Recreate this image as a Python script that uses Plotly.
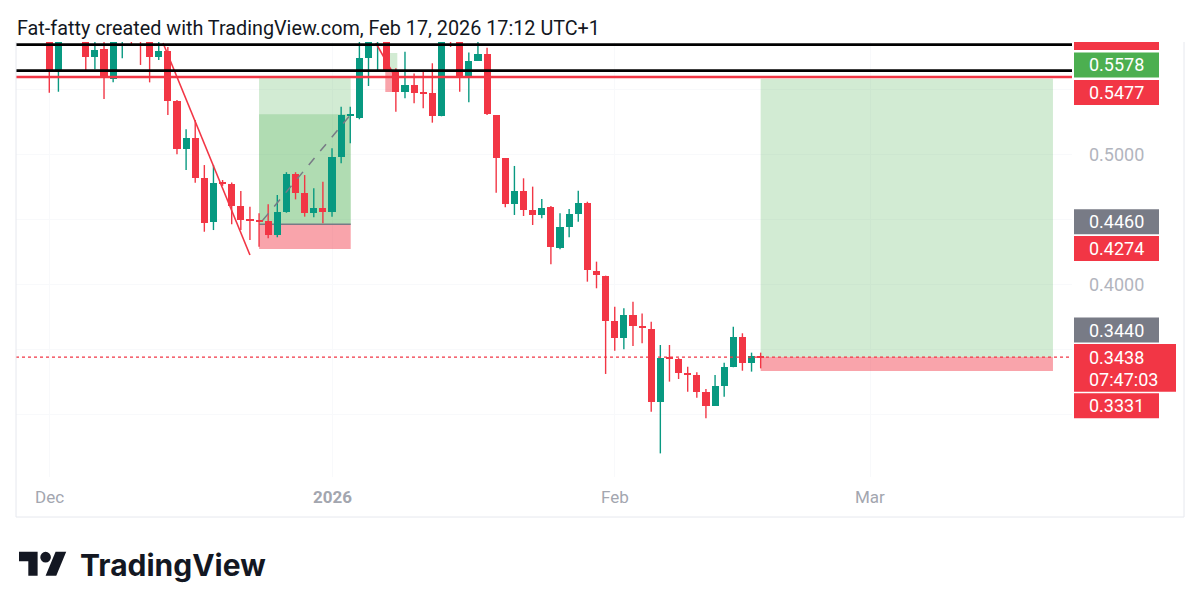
import plotly.graph_objects as go
import pandas as pd

# ---------------- data ----------------
dates = ["2025-12-01", "2025-12-02", "2025-12-05", "2025-12-06", "2025-12-07", "2025-12-08",
         "2025-12-09", "2025-12-10", "2025-12-11", "2025-12-12", "2025-12-13", "2025-12-14",
         "2025-12-15", "2025-12-16", "2025-12-17", "2025-12-18", "2025-12-19", "2025-12-20",
         "2025-12-21", "2025-12-22", "2025-12-23", "2025-12-24", "2025-12-25", "2025-12-26",
         "2025-12-27", "2025-12-28", "2025-12-29", "2025-12-30", "2025-12-31", "2026-01-01",
         "2026-01-02", "2026-01-03", "2026-01-04", "2026-01-05", "2026-01-06", "2026-01-07",
         "2026-01-08", "2026-01-09", "2026-01-10", "2026-01-11", "2026-01-12", "2026-01-13",
         "2026-01-14", "2026-01-15", "2026-01-16", "2026-01-17", "2026-01-18", "2026-01-19",
         "2026-01-20", "2026-01-21", "2026-01-22", "2026-01-23", "2026-01-24", "2026-01-25",
         "2026-01-26", "2026-01-27", "2026-01-28", "2026-01-29", "2026-01-30", "2026-01-31",
         "2026-02-01", "2026-02-02", "2026-02-03", "2026-02-04", "2026-02-05", "2026-02-06",
         "2026-02-07", "2026-02-08", "2026-02-09", "2026-02-10", "2026-02-11", "2026-02-12",
         "2026-02-13", "2026-02-14", "2026-02-15", "2026-02-16", "2026-02-17"]

open_ = [0.592, 0.5641, 0.590, 0.5744, 0.5805, 0.5577, 0.588, 0.596, 0.594, 0.590, 0.5744, 0.5792,
         0.5408, 0.5036, 0.5125, 0.4818, 0.4477, 0.4782, 0.4767, 0.4602, 0.4496, 0.4492, 0.4485, 0.4377,
         0.4552, 0.4846, 0.4702, 0.4544, 0.4582, 0.4551, 0.4979, 0.5298, 0.5275, 0.5736, 0.588, 0.590,
         0.5641, 0.5475, 0.5531, 0.5471, 0.5467, 0.5292, 0.600, 0.594, 0.5602, 0.5718, 0.5769, 0.5300,
         0.4967, 0.4613, 0.4718, 0.4569, 0.4531, 0.4590, 0.4274, 0.4441, 0.4538, 0.4621, 0.4102, 0.4064,
         0.3718, 0.3587, 0.3762, 0.3678, 0.3654, 0.3090, 0.3436, 0.3423, 0.3313, 0.3300, 0.3167, 0.3064,
         0.3218, 0.3359, 0.3595, 0.3395, 0.3449]
high = [0.600, 0.602, 0.596, 0.590, 0.590, 0.596, 0.600, 0.600, 0.600, 0.597, 0.587, 0.5823,
        0.5415, 0.519, 0.5262, 0.4915, 0.4915, 0.4800, 0.4780, 0.4715, 0.4595, 0.4544, 0.4613, 0.4685,
        0.4860, 0.4860, 0.4838, 0.4736, 0.4787, 0.5044, 0.5364, 0.5364, 0.595, 0.598, 0.600, 0.598,
        0.5660, 0.5787, 0.5620, 0.5633, 0.5698, 0.600, 0.606, 0.598, 0.578, 0.587, 0.5818, 0.5300,
        0.4967, 0.4908, 0.4813, 0.4749, 0.4654, 0.4600, 0.4544, 0.4577, 0.4718, 0.4633, 0.4172, 0.4064,
        0.3825, 0.3813, 0.3864, 0.3774, 0.3710, 0.3531, 0.3531, 0.3430, 0.3364, 0.3321, 0.3192, 0.3300,
        0.3395, 0.3672, 0.3621, 0.3472, 0.3472]
low = [0.5472, 0.5479, 0.5646, 0.5651, 0.5423, 0.5551, 0.5736, 0.5838, 0.5685, 0.5551, 0.5723, 0.530,
       0.4998, 0.4877, 0.4779, 0.4402, 0.4415, 0.4755, 0.4459, 0.4415, 0.4338, 0.4287, 0.4352, 0.4360,
       0.4548, 0.4651, 0.4518, 0.4513, 0.4467, 0.4518, 0.4928, 0.5082, 0.5267, 0.5523, 0.5646, 0.5630,
       0.5325, 0.5428, 0.5390, 0.5351, 0.5241, 0.5290, 0.5823, 0.5479, 0.5398, 0.5715, 0.5300, 0.4702,
       0.4590, 0.4531, 0.4523, 0.4454, 0.4505, 0.4152, 0.4268, 0.4359, 0.4479, 0.4018, 0.3967, 0.3308,
       0.3487, 0.3498, 0.3523, 0.3544, 0.3018, 0.2697, 0.3249, 0.3269, 0.3171, 0.3125, 0.2967, 0.3064,
       0.3133, 0.3359, 0.3333, 0.3326, 0.3351]
close = [0.5633, 0.595, 0.5749, 0.5800, 0.5587, 0.590, 0.594, 0.592, 0.590, 0.5744, 0.5795, 0.5408,
         0.5036, 0.512, 0.4818, 0.4472, 0.4775, 0.4770, 0.4602, 0.4492, 0.4486, 0.4482, 0.4377, 0.4552,
         0.4846, 0.4702, 0.4544, 0.4582, 0.4551, 0.4979, 0.5298, 0.5310, 0.5736, 0.588, 0.594, 0.5641,
         0.5475, 0.5531, 0.5467, 0.5462, 0.5292, 0.592, 0.594, 0.5592, 0.5718, 0.5769, 0.5308, 0.4967,
         0.4613, 0.4715, 0.4569, 0.4531, 0.4587, 0.4282, 0.4441, 0.4536, 0.4621, 0.4108, 0.4069, 0.3718,
         0.3587, 0.3762, 0.3677, 0.3667, 0.3090, 0.3428, 0.3426, 0.3313, 0.3303, 0.3172, 0.3064, 0.3215,
         0.3359, 0.3595, 0.3395, 0.3449, 0.3438]

# horizontal levels (drawings)
black_levels = [0.5841, 0.5641]
red_level = 0.5592
last_price = 0.3438

# trendline (day offset from 2025-12-01, price)
trend_pts = [(12.47, 0.5854), (22.0, 0.4223)]
small_red_pts = [(35.8, 0.5854), (37.7, 0.5620)]

# long position tools: start day, end day, target, entry, stop
pos1 = dict(start=23.0, end=33.05, target=0.5592, entry=0.4459, stop=0.4269, reached=0.5305)
pos1_path = [(23.4, 0.4490), (33.0, 0.5300)]
pos2 = dict(start=78.0, end=110.05, target=0.5578, entry=0.3438, stop=0.3331)
pos3 = dict(start=36.84, end=38.16, target=0.5777, entry=0.5631, stop=0.5477)

# price-scale labels
axis_prices = [0.5000, 0.4000]
label_texts = ["0.5578", "0.5477", "0.4460", "0.4274", "0.3440", "0.3438", "0.3331"]
label_colors = ["#4caf50", "#f23645", "#787b86", "#f23645", "#787b86", "#f23645", "#f23645"]
countdown = "07:47:03"

month_ticks = ["2025-12-01", "2026-01-01", "2026-02-01", "2026-03-01"]
month_text = ["Dec", "<b>2026</b>", "Feb", "Mar"]

title_text = "Fat-fatty created with TradingView.com, Feb 17, 2026 17:12 UTC+1"

# ---------------- layout geometry (pixels) ----------------
W, H = 1200, 611
L, R, T, B = 16, 1072, 42, 477
PW, PH = R - L, B - T
PX_PER_DAY = 9.12
X_DEC1 = 49.3
Y_050, PX_PER_UNIT = 154.0, 1300.0

base = pd.Timestamp("2025-12-01")


def day(d):
    return base + pd.Timedelta(days=d)


def px_to_price(y):
    return 0.5 + (Y_050 - y) / PX_PER_UNIT


def fx(x):  # pixel -> paper x
    return (x - L) / PW


def fy(y):  # pixel -> paper y
    return (B - y) / PH


x_range = [day((L - X_DEC1) / PX_PER_DAY), day((R - X_DEC1) / PX_PER_DAY)]
y_range = [px_to_price(B), px_to_price(T)]

GREEN, RED = "#089981", "#f23645"
colors = [GREEN if c >= o else RED for o, c in zip(open_, close)]

fig = go.Figure()

# wicks
for col in (GREEN, RED):
    xs, ys = [], []
    for d, h, lo, c in zip(dates, high, low, colors):
        if c == col:
            xs += [d, d, None]
            ys += [lo, h, None]
    fig.add_trace(go.Scatter(x=xs, y=ys, mode="lines", line=dict(color=col, width=1.4),
                             hoverinfo="skip", showlegend=False))

# bodies
body_base = [min(o, c) for o, c in zip(open_, close)]
body_h = [max(abs(c - o), 0.0011) for o, c in zip(open_, close)]
fig.add_trace(go.Bar(x=dates, y=body_h, base=body_base, width=0.78 * 86400000,
                     marker=dict(color=colors, line=dict(width=0)), showlegend=False,
                     hoverinfo="skip"))

shapes = []
G_FILL = "rgba(76,175,80,0.25)"
R_FILL = "rgba(242,54,69,0.45)"
ZL = "between"

# position tools (below candles, above grid)
for p in (pos1, pos2, pos3):
    shapes.append(dict(type="rect", xref="x", yref="y", x0=day(p["start"]), x1=day(p["end"]),
                       y0=p["entry"], y1=p["target"], fillcolor=G_FILL, line=dict(width=0),
                       layer=ZL))
    shapes.append(dict(type="rect", xref="x", yref="y", x0=day(p["start"]), x1=day(p["end"]),
                       y0=p["stop"], y1=p["entry"], fillcolor=R_FILL, line=dict(width=0),
                       layer=ZL))
shapes.append(dict(type="rect", xref="x", yref="y", x0=day(pos1["start"]), x1=day(pos1["end"]),
                   y0=pos1["entry"], y1=pos1["reached"], fillcolor=G_FILL, line=dict(width=0),
                   layer=ZL))
shapes.append(dict(type="line", xref="x", yref="y", x0=day(pos1["start"]), x1=day(pos1["end"]),
                   y0=pos1["entry"], y1=pos1["entry"], line=dict(color="#787b86", width=1.5),
                   layer=ZL))
shapes.append(dict(type="line", xref="x", yref="y", x0=day(pos1_path[0][0]), x1=day(pos1_path[1][0]),
                   y0=pos1_path[0][1], y1=pos1_path[1][1],
                   line=dict(color="#787b86", width=1.5, dash="dash"), layer="above"))

# trend lines
for pts in (trend_pts, small_red_pts):
    shapes.append(dict(type="line", xref="x", yref="y", x0=day(pts[0][0]), x1=day(pts[1][0]),
                       y0=pts[0][1], y1=pts[1][1], line=dict(color=RED, width=1.6), layer="above"))

# horizontal lines
for lv in black_levels:
    shapes.append(dict(type="line", xref="paper", yref="y", x0=0, x1=1, y0=lv, y1=lv,
                       line=dict(color="#000000", width=2.6), layer="above"))
shapes.append(dict(type="line", xref="paper", yref="y", x0=0, x1=1, y0=red_level, y1=red_level,
                   line=dict(color=RED, width=2.6), layer="above"))
shapes.append(dict(type="line", xref="paper", yref="y", x0=0, x1=1, y0=last_price, y1=last_price,
                   line=dict(color=RED, width=1.3, dash="dot"), layer="above"))

# frame
FRAME = "#e6e8ee"
shapes.append(dict(type="line", xref="paper", yref="paper", x0=fx(L), x1=fx(L), y0=fy(T), y1=fy(517),
                   line=dict(color=FRAME, width=1)))
shapes.append(dict(type="line", xref="paper", yref="paper", x0=fx(1184), x1=fx(1184), y0=fy(T), y1=fy(517),
                   line=dict(color=FRAME, width=1)))
shapes.append(dict(type="line", xref="paper", yref="paper", x0=fx(L), x1=fx(1184), y0=fy(517), y1=fy(517),
                   line=dict(color=FRAME, width=1)))

annotations = []

# price-scale labels (boxes)
label_centers = [65.0, 92.5, 221.7, 248.5, 330.0, 357.0, 405.8]   # pixel centres after collision offset
BOX_L, BOX_R, BOX_H = 1074, 1159, 25
for txt, col, cy in zip(label_texts, label_colors, label_centers):
    if txt == f"{last_price:.4f}":
        shapes.append(dict(type="rect", xref="paper", yref="paper", x0=fx(BOX_L), x1=fx(1176),
                           y0=fy(cy - 13), y1=fy(cy + 34.7), fillcolor=col, line=dict(width=0)))
        annotations.append(dict(xref="paper", yref="paper", x=fx(1087), y=fy(cy + 22), text=countdown,
                                showarrow=False, xanchor="left", yanchor="middle",
                                font=dict(family="Roboto", size=18, color="white")))
    else:
        shapes.append(dict(type="rect", xref="paper", yref="paper", x0=fx(BOX_L), x1=fx(BOX_R),
                           y0=fy(cy - BOX_H / 2), y1=fy(cy + BOX_H / 2), fillcolor=col,
                           line=dict(width=0)))
    annotations.append(dict(xref="paper", yref="paper", x=fx(1087), y=fy(cy), text=txt,
                            showarrow=False, xanchor="left", yanchor="middle",
                            font=dict(family="Roboto", size=18, color="white")))
# partially visible label at top
shapes.append(dict(type="rect", xref="paper", yref="paper", x0=fx(BOX_L), x1=fx(BOX_R),
                   y0=fy(50), y1=fy(T), fillcolor=RED, line=dict(width=0)))

for pval in axis_prices:
    annotations.append(dict(xref="paper", yref="y", x=fx(1087), y=pval, text=f"{pval:.4f}",
                            showarrow=False, xanchor="left", yanchor="middle",
                            font=dict(family="Roboto", size=18, color="#b2b5be")))

for d, t in zip(month_ticks, month_text):
    annotations.append(dict(xref="x", yref="paper", x=d, y=fy(497), text=t, showarrow=False,
                            xanchor="center", yanchor="middle",
                            font=dict(family="Roboto", size=17, color="#a3a6af")))

annotations.append(dict(xref="paper", yref="paper", x=fx(15), y=fy(28), text=title_text,
                        showarrow=False, xanchor="left", yanchor="middle",
                        font=dict(family="Roboto", size=19.8, color="#131722")))

# TradingView logo
SX, OX, OY = 1.33, 19, 546.5
def lp(x, y):
    return f"{fx(OX + x * SX):.5f},{fy(OY + y * SX):.5f}"

logo1 = "M" + " L".join(lp(x, y) for x, y in [(0, 4), (14, 4), (14, 22), (7, 22), (7, 11), (0, 11)]) + " Z"
logo2 = "M" + " L".join(lp(x, y) for x, y in [(27.5, 4), (35.5, 4), (28, 22), (20, 22)]) + " Z"
shapes.append(dict(type="path", xref="paper", yref="paper", path=logo1, fillcolor="#131722",
                   line=dict(width=0)))
shapes.append(dict(type="path", xref="paper", yref="paper", path=logo2, fillcolor="#131722",
                   line=dict(width=0)))
shapes.append(dict(type="circle", xref="paper", yref="paper",
                   x0=fx(OX + 16 * SX), x1=fx(OX + 24 * SX), y0=fy(OY + 4 * SX), y1=fy(OY + 12 * SX),
                   fillcolor="#131722", line=dict(width=0)))
annotations.append(dict(xref="paper", yref="paper", x=fx(78), y=fy(565), text="<b>TradingView</b>",
                        showarrow=False, xanchor="left", yanchor="middle",
                        font=dict(family="Inter", size=30, color="#131722")))

fig.update_layout(
    width=W, height=H,
    margin=dict(l=L, r=W - R, t=T, b=H - B, pad=0),
    paper_bgcolor="white", plot_bgcolor="white",
    showlegend=False, bargap=0,
    shapes=shapes, annotations=annotations,
    xaxis=dict(type="date", range=x_range, showticklabels=False, ticks="",
               tickvals=month_ticks, showgrid=True, gridcolor="#f8f9fb", zeroline=False,
               showline=False, fixedrange=True),
    yaxis=dict(range=y_range, showticklabels=False, ticks="", tickvals=[0.3, 0.35, 0.4, 0.45, 0.5, 0.55],
               showgrid=True, gridcolor="#f8f9fb", zeroline=False, showline=False, fixedrange=True),
)

fig.write_html("out.html")
